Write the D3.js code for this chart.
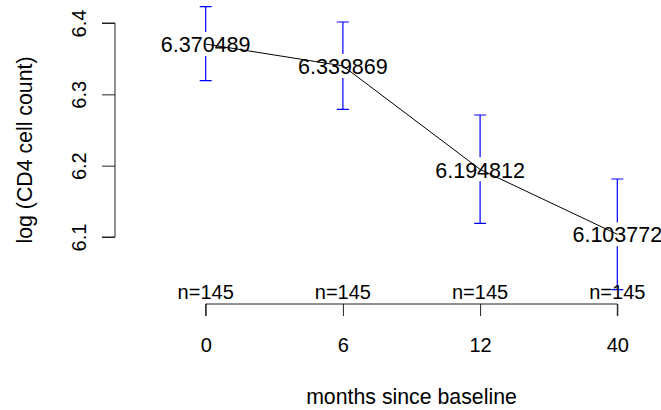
<!DOCTYPE html>
<html>
<head>
<meta charset="utf-8">
<script src="https://cdn.jsdelivr.net/npm/d3@7"></script>
<style>
  body { margin: 0; background: #fff; }
  svg text { font-family: "Liberation Sans", Arial, sans-serif; fill: #000; }
</style>
</head>
<body>
<div id="chart"></div>
<script>
// values
const months = ["0", "6", "12", "40"];
const means = [6.370489, 6.339869, 6.194812, 6.103772];
const upper = [6.4229, 6.4014, 6.2710, 6.1813];
const lower = [6.3191, 6.2790, 6.1192, 6.0262];
const counts = [145, 145, 145, 145];
const yTicks = [6.1, 6.2, 6.3, 6.4];

const width = 661, height = 410;
const data = months.map((m, i) => ({month: m, mean: means[i], hi: upper[i], lo: lower[i], n: counts[i]}));

const svg = d3.select("#chart").append("svg")
  .attr("width", width)
  .attr("height", height);

const x = d3.scalePoint().domain(months).range([205.7, 617.3]);
const y = d3.scaleLinear().domain([6.1, 6.4]).range([237, 23]);

const axisY = 115, axisX = 304;
const gap = 12, cap = 6;

// y axis (R style: line only spans the ticks)
const yAxis = svg.append("g")
  .attr("transform", `translate(${axisY},0)`)
  .call(d3.axisLeft(y).tickValues(yTicks).tickSize(13).tickFormat(d3.format(".1f")));
yAxis.select(".domain").attr("d", `M-13,${y(6.1)}H0V${y(6.4)}H-13`).attr("stroke", "#222");
yAxis.selectAll(".tick line").attr("stroke", "#222");
yAxis.selectAll(".tick text")
  .attr("x", 0).attr("dy", 0)
  .attr("transform", d => `translate(-29,0) rotate(-90)`)
  .attr("text-anchor", "middle")
  .style("font-size", "20px");

// x axis
const xAxis = svg.append("g")
  .attr("transform", `translate(0,${axisX})`)
  .call(d3.axisBottom(x).tickSize(12).tickPadding(0));
xAxis.select(".domain").attr("d", `M${x("0")},12V0H${x("40")}V12`).attr("stroke", "#222");
xAxis.selectAll(".tick line").attr("stroke", "#222");
xAxis.selectAll(".tick text")
  .attr("y", 48).attr("dy", 0)
  .style("font-size", "20px");
svg.selectAll(".domain").attr("fill", "none");

// connecting line
svg.append("path")
  .datum(data)
  .attr("fill", "none")
  .attr("stroke", "#000")
  .attr("stroke-width", 1)
  .attr("d", d3.line().x(d => x(d.month)).y(d => y(d.mean)));

// error bars with a gap around the mean
const bars = svg.append("g").attr("stroke", "#0000ff").attr("stroke-width", 1.2).attr("fill", "none");
bars.selectAll("path.bar")
  .data(data)
  .join("path")
  .attr("class", "bar")
  .attr("d", d => {
    const cx = x(d.month), cy = y(d.mean);
    return `M${cx - cap},${y(d.hi)}H${cx + cap}M${cx},${y(d.hi)}V${cy - gap}` +
           `M${cx},${cy + gap}V${y(d.lo)}M${cx - cap},${y(d.lo)}H${cx + cap}`;
  });

// mean labels
svg.selectAll("text.mean")
  .data(data)
  .join("text")
  .attr("class", "mean")
  .attr("x", d => x(d.month))
  .attr("y", d => y(d.mean))
  .attr("dy", "0.38em")
  .attr("text-anchor", "middle")
  .style("font-size", "21.5px")
  .text(d => d3.format(".6f")(d.mean));

// n labels
svg.selectAll("text.n")
  .data(data)
  .join("text")
  .attr("class", "n")
  .attr("x", d => x(d.month))
  .attr("y", 299)
  .attr("text-anchor", "middle")
  .style("font-size", "20px")
  .text(d => "n=" + d.n);

// axis titles
svg.append("text")
  .attr("x", (x("0") + x("40")) / 2)
  .attr("y", 404)
  .attr("text-anchor", "middle")
  .style("font-size", "21.3px")
  .text("months since baseline");

svg.append("text")
  .attr("transform", `translate(32,150) rotate(-90)`)
  .attr("text-anchor", "middle")
  .style("font-size", "21.3px")
  .text("log (CD4 cell count)");
</script>
</body>
</html>
